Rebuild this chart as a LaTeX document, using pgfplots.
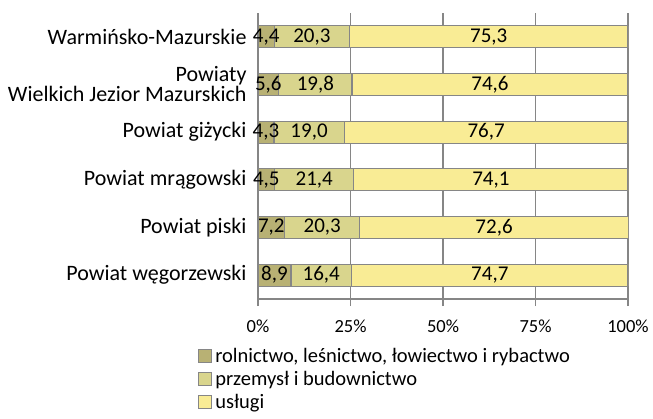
\documentclass[border=0pt]{standalone}
\usepackage{pgfplots}
\usepackage{pgfplotstable}
\pgfplotsset{compat=1.18}
\usepackage{fontspec}
\setmainfont{Carlito}

\definecolor{rol}{RGB}{184,177,116}
\definecolor{prz}{RGB}{217,213,141}
\definecolor{usl}{RGB}{249,236,149}
\definecolor{edge}{RGB}{134,134,134}

\newcommand{\catfont}{\fontsize{22}{20}\selectfont}
\newcommand{\tickfont}{\fontsize{18.5}{20}\selectfont}
\newcommand{\valfont}{\fontsize{21}{22}\selectfont}
\newcommand{\legfont}{\fontsize{20.5}{22}\selectfont}

% y: 0 = Powiat wegorzewski (bottom) ... 5 = Warminsko-Mazurskie (top)
\pgfplotstableread{
y rol prz usl
0 8.9 16.4 74.7
1 7.2 20.3 72.6
2 4.5 21.4 74.1
3 4.3 19.0 76.7
4 5.6 19.8 74.6
5 4.4 20.3 75.3
}\shares

\pgfplotsset{
    frame/.style={
        at={(258pt,119pt)}, anchor=south west,
        scale only axis,
        width=370pt, height=286pt,
        xmin=0, xmax=100,
        ymin=-0.5, ymax=5.5,
    },
}

\begin{document}
\begin{tikzpicture}
\path[use as bounding box] (0,0) rectangle (653pt,418pt);
\begin{axis}[
    frame,
    xbar stacked,
    bar width=22pt,
    xtick={0,25,50,75,100},
    xticklabels={0\%,25\%,50\%,75\%,100\%},
    ytick={0,...,5},
    yticklabels={Powiat węgorzewski, Powiat piski, Powiat mrągowski, Powiat giżycki,
        {Powiaty\\Wielkich Jezior Mazurskich}, Warmińsko-Mazurskie},
    yticklabel style={align=right, xshift=-8pt, font=\catfont, text=black},
    xticklabel style={yshift=-10pt, font=\tickfont, text=black},
    axis x line*=bottom,
    axis y line*=left,
    axis line style={-, edge, line width=1.4pt},
    xtick align=outside,
    major tick length=7pt,
    xtick style={edge, line width=1.4pt},
    ytick style={draw=none},
    xmajorgrids,
    major grid style={edge, line width=1.4pt},
    legend style={at={(-0.162,-0.170)}, anchor=north west, draw=none, fill=none,
        font=\legfont, inner sep=0pt, row sep=7.5pt,
        nodes={inner xsep=3pt, inner ysep=0pt}},
    legend cell align=left,
]
\addplot[fill=rol, draw=edge, line width=1.2pt,
    legend image code/.code={\draw[fill=rol, draw=edge, line width=1pt] (0pt,-6.5pt) rectangle (13pt,6.5pt);}]
    table[x=rol, y=y] {\shares};
\addplot[fill=prz, draw=edge, line width=1.2pt,
    legend image code/.code={\draw[fill=prz, draw=edge, line width=1pt] (0pt,-6.5pt) rectangle (13pt,6.5pt);}]
    table[x=prz, y=y] {\shares};
\addplot[fill=usl, draw=edge, line width=1.2pt,
    legend image code/.code={\draw[fill=usl, draw=edge, line width=1pt] (0pt,-6.5pt) rectangle (13pt,6.5pt);}]
    table[x=usl, y=y] {\shares};
\legend{{rolnictwo, leśnictwo, łowiectwo i rybactwo}, {przemysł i budownictwo}, {usługi}}
\end{axis}

% value labels, centred in each segment
\begin{axis}[
    frame,
    hide axis,
    /pgf/number format/.cd, use comma, fixed, fixed zerofill, precision=1, assume math mode=true,
    /pgfplots/.cd,
    nodes near coords,
    every node near coord/.append style={font=\valfont, text=black, anchor=center, inner sep=0pt},
]
\addplot[only marks, mark=none, point meta=explicit]
    table[x expr=\thisrow{rol}/2, y=y, meta=rol] {\shares};
\addplot[only marks, mark=none, point meta=explicit]
    table[x expr=\thisrow{rol}+\thisrow{prz}/2, y=y, meta=prz] {\shares};
\addplot[only marks, mark=none, point meta=explicit]
    table[x expr=\thisrow{rol}+\thisrow{prz}+\thisrow{usl}/2, y=y, meta=usl] {\shares};
\end{axis}
\end{tikzpicture}
\end{document}
